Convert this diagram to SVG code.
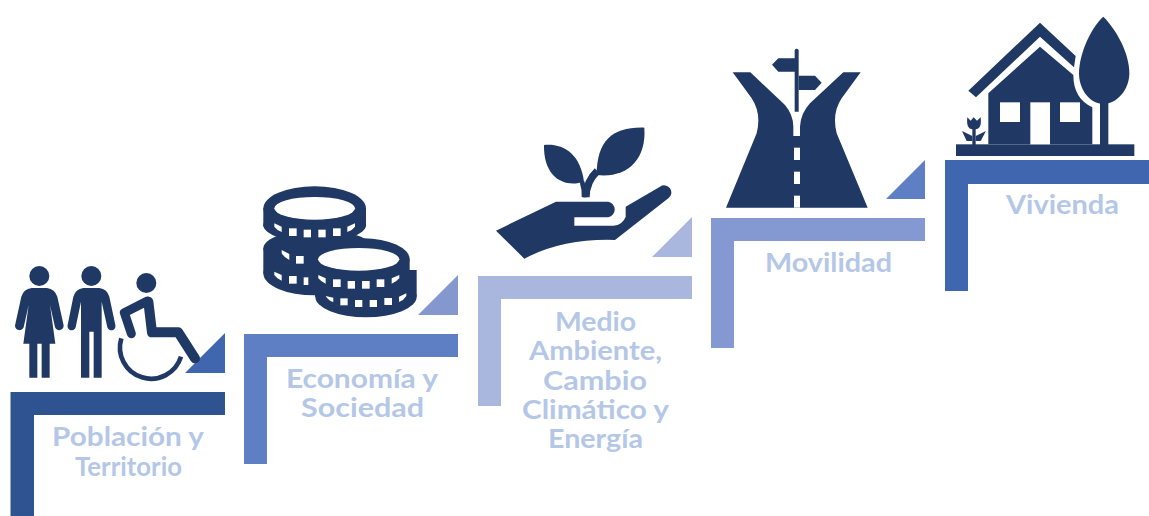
<svg xmlns="http://www.w3.org/2000/svg" width="1149" height="516" viewBox="0 0 1149 516">
<style>
.i{fill:#1f3864}
.w{fill:#fff}
.l{fill:none;stroke:#1f3864;stroke-linecap:round;stroke-linejoin:round}
text{font-family:"Lato","Liberation Sans",sans-serif;font-weight:700;font-size:27px;fill:#b4c7e7;lengthAdjust:spacingAndGlyphs}
</style>
<rect width="1149" height="516" fill="#fff"/>
<g id="poblacion">
<path fill="#2f5290" d="M10.500 392H225V415H34V516H10.500Z"/>
<path fill="#4066b0" d="M185 373L225 333V373Z"/>
<g transform="translate(0,250) scale(.33333)">
<circle class="i" cx="118" cy="78" r="30"/>
<path class="i" d="M95 114H141Q165 118 172 140L190 222A13 13 0 0 1 165 232L150 165L148 150L166 281H149V383H125V281H112V383H88V281H70L88 150L86 165L71 232A13 13 0 0 1 46 222L64 140Q70 118 95 114Z"/>
<circle class="i" cx="274" cy="78" r="30"/>
<path class="i" d="M250 114H298Q322 118 328 140L346 225A12.500 12.500 0 0 1 322 232L305 155V383H281V245H268V383H243V155L227 232A12.500 12.500 0 0 1 203 225L220 140Q226 118 250 114Z"/>
<circle class="i" cx="439" cy="99" r="30"/>
<path class="l" stroke-width="27" d="M442 153L373 188L394 251"/>
<path class="l" stroke-width="30" d="M445 155L456 247H535L585 325"/>
<path class="l" stroke-width="14" style="stroke-linecap:butt" d="M364 265A93 93 0 0 0 543 320"/>
</g>
</g>
<g id="economia">
<path fill="#5f7fc4" d="M244 334H458V357H267V464H244Z"/>
<path fill="#8497cf" d="M418 315L458 275V315Z"/>
<g transform="translate(240,170) scale(.33333)">
<g class="i">
<ellipse cx="224" cy="115" rx="154" ry="66"/><rect x="70" y="115" width="308" height="55"/><ellipse cx="224" cy="165" rx="154" ry="52"/>
<ellipse cx="234" cy="235" rx="164" ry="55"/><rect x="70" y="235" width="300" height="75"/><ellipse cx="224" cy="310" rx="154" ry="66"/>
<ellipse cx="370" cy="268" rx="139" ry="63"/><rect x="225" y="300" width="305" height="80"/><ellipse cx="378" cy="380" rx="152" ry="62"/><rect x="232" y="268" width="277" height="50"/>
</g>
<ellipse class="w" cx="224" cy="115" rx="121" ry="34"/>
<ellipse class="w" cx="356" cy="268" rx="122" ry="34"/>
<g class="w">
<path d="M103 160L125 170V186Q110 180 103 170Z"/><rect x="147" y="175" width="23" height="23"/><rect x="191" y="179" width="22" height="23"/><rect x="235" y="179" width="22" height="23"/><rect x="279" y="175" width="23" height="23"/><path d="M345 160L322 170V186Q338 180 345 170Z"/>
<path d="M125 240L148 252V270Q132 262 125 250Z"/><rect x="168" y="258" width="23" height="23"/>
<path d="M103 305L125 315V332Q110 326 103 315Z"/><rect x="147" y="318" width="23" height="23"/><rect x="191" y="322" width="14" height="23"/>
<path d="M235 315L257 325V341Q243 335 235 325Z"/><rect x="279" y="328" width="23" height="23"/><rect x="323" y="333" width="22" height="23"/><rect x="366" y="333" width="23" height="23"/><rect x="410" y="328" width="23" height="23"/><path d="M478 315L455 325V341Q470 335 478 325Z"/>
<path d="M257 378L280 383V396Q265 392 257 378Z"/><rect x="301" y="385" width="22" height="21"/><rect x="345" y="390" width="22" height="21"/><rect x="389" y="390" width="22" height="21"/><rect x="433" y="384" width="23" height="21"/><path d="M499 370L477 380V396Q492 390 499 378Z"/>
</g>
</g>
</g>
<g id="medio">
<path fill="#a9b7de" d="M478 276H692V299H501V406H478Z"/>
<path fill="#a9b7de" d="M652 257L692 217V257Z"/>
<g transform="translate(480,110) scale(.33333)">
<path class="i" d="M192 105C250 100 300 130 312 215C250 235 190 200 192 105Z"/>
<path class="i" d="M493 53C400 50 350 90 350 195C440 205 500 150 493 53Z"/>
<path class="l" stroke-width="22" style="stroke-linecap:butt" d="M318 262Q318 215 352 183"/>
<path class="l" stroke-width="14" style="stroke-linecap:butt" d="M312 262Q314 240 306 215"/>
<path class="i" d="M48 362L228 275H385A24 24 0 0 1 385 322H283V347H400Q428 345 437 320V290L540 230A20 20 0 1 1 565 265L405 390Q250 385 133 446Z"/>
</g>
</g>
<g id="movilidad">
<path fill="#8499d1" d="M711 218H925V241H734V348H711Z"/>
<path fill="#5f7fc4" d="M886 199L925 160V199Z"/>
<g transform="translate(710,40) scale(.33333)">
<path class="i" d="M68 97H121L225 195Q250 225 250 260V288H270V260Q272 220 300 190L400 97H452L395 175Q365 220 380 280L473 503H48L140 280Q155 220 125 175Z"/>
<g class="w"><rect x="252" y="323" width="18" height="37"/><rect x="252" y="395" width="18" height="37"/><rect x="252" y="467" width="18" height="36"/></g>
<path class="i" d="M254 30Q260 22 266 30V215H254V150H254V95H205L186 74L205 55H254Z"/>
<path class="i" d="M266 107H315L335 128L315 150H266Z"/>
</g>
</g>
<g id="vivienda">
<path fill="#4066b0" d="M945 160H1149V184H968V291H945Z"/>
<g transform="translate(940,10) scale(.33333)">
<rect class="i" x="48" y="403" width="535" height="35"/>
<path class="i" d="M145 250L300 110L400 195Q400 265 457 292V403H145Z"/>
<g class="w"><rect x="271" y="277" width="59" height="126"/><rect x="180" y="277" width="60" height="59"/><rect x="360" y="277" width="60" height="59"/></g>
<path class="i" d="M85 242L300 38L407 138L402 172L300 80L108 262Z"/>
<rect class="i" x="480" y="270" width="25" height="135"/>
<path class="i" d="M490 20C530 60 568 130 568 190C568 240 530 282 490 282C450 282 417 240 417 190C417 130 455 50 490 20Z"/>
<path class="i" d="M82 322L92 332L101 322L111 332L122 322Q126 358 106 358H98Q78 358 82 322Z"/>
<rect class="i" x="97" y="355" width="10" height="50"/>
<path class="i" d="M66 363L97 378V393H80Z"/>
<path class="i" d="M138 363L107 378V393H122Z"/>
</g>
</g>
<g id="labels">
<text x="52" y="446" textLength="152" lengthAdjust="spacingAndGlyphs">Población y</text>
<text x="75" y="476" textLength="107" lengthAdjust="spacingAndGlyphs">Territorio</text>
<text x="286" y="388" textLength="152" lengthAdjust="spacingAndGlyphs">Economía y</text>
<text x="301" y="417" textLength="123" lengthAdjust="spacingAndGlyphs">Sociedad</text>
<text x="555" y="331" textLength="81" lengthAdjust="spacingAndGlyphs">Medio</text>
<text x="529" y="360" textLength="133" lengthAdjust="spacingAndGlyphs">Ambiente,</text>
<text x="543" y="390" textLength="104" lengthAdjust="spacingAndGlyphs">Cambio</text>
<text x="522" y="419" textLength="147" lengthAdjust="spacingAndGlyphs">Climático y</text>
<text x="548" y="448" textLength="95" lengthAdjust="spacingAndGlyphs">Energía</text>
<text x="765" y="272" textLength="127" lengthAdjust="spacingAndGlyphs">Movilidad</text>
<text x="1006" y="214" textLength="113" lengthAdjust="spacingAndGlyphs">Vivienda</text>
</g>
</svg>
